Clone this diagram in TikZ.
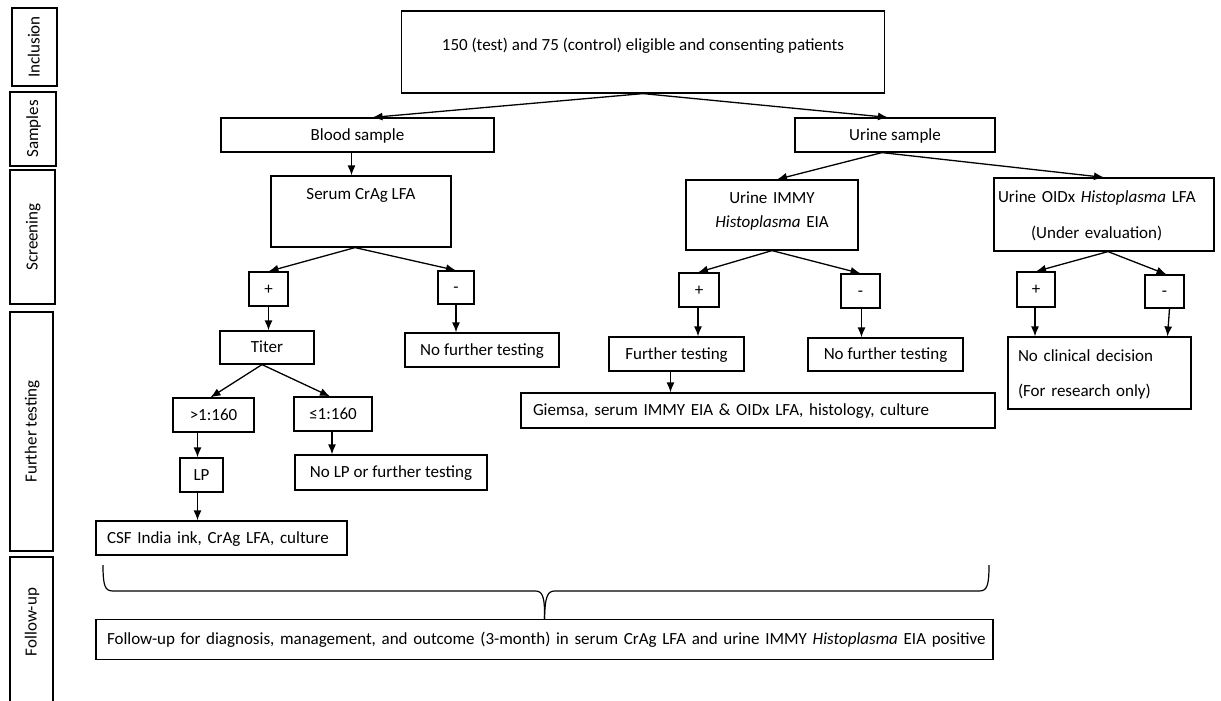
\documentclass[tikz,border=0pt]{standalone}
\usepackage{fontspec}
\setmainfont{Carlito}
\usetikzlibrary{arrows.meta}

\begin{document}
\begin{tikzpicture}[
  x=1pt, y=-1pt,
  font=\fontsize{17}{24}\selectfont,
  every node/.style={inner sep=0pt, line width=1.2pt},
  box/.style 2 args={draw, minimum width=#1pt, minimum height=#2pt, text height=12pt, text depth=2pt},
  phase/.style 2 args={draw, rotate=90, minimum width=#1pt, minimum height=#2pt, text height=12pt, text depth=2pt},
  flow/.style={-{Latex[length=10pt,width=8pt]}, line width=1.3pt}
  ]
  \useasboundingbox (0,0) rectangle (1221,701);

  % phases on the left
  \node[phase={78}{45}] (inc) at (34.5,47) {Inclusion};
  \node[phase={74}{46}] (samp) at (33,129) {Samples};
  \node[phase={134}{45}] (scr) at (32.5,237) {Screening};
  \node[phase={239}{43}] (fur) at (31.5,431.5) {Further testing};
  \node[phase={146}{43}] (fu) at (31.5,630) {\hspace*{16pt}Follow-up};

  % inclusion and samples
  \node[box={483}{82}, text height=39.5pt, text depth=42.5pt] (pat) at (643,52) {150 (test) and 75 (control) eligible and consenting patients};
  \node[box={273}{34}] (blood) at (357.5,135) {Blood sample};
  \node[box={200}{34}] (urine) at (895,135) {Urine sample};

  % blood branch
  \node[box={180}{71}, text height=23pt, text depth=48pt] (serum) at (361,211.5) {Serum CrAg LFA};
  \node[box={39}{34}] (bplus) at (268.5,289) {+};
  \node[box={36}{33}] (bminus) at (456,287.5) {-};
  \node[box={94}{33}] (titer) at (267,347.5) {Titer};
  \node[box={154}{34}] (bnone) at (482,350) {No further testing};
  \node[box={81}{34}] (hi) at (213.5,415) {>1:160};
  \node[box={78}{34}] (lo) at (333,414) {≤1:160};
  \node[box={43}{34}] (lp) at (201.5,475) {LP};
  \node[box={192}{35}] (nolp) at (391,472.5) {No LP or further testing};
  \node[box={251}{34}, align=left, text width=229pt, inner xsep=11pt] (csf) at (221.5,538) {CSF India ink, CrAg LFA, culture};

  % urine branch
  \node[box={172}{70}, align=center, text width=172pt, text height=23pt, text depth=47pt] (immy) at (772,215) {Urine IMMY\\\textit{Histoplasma} EIA};
  \node[box={220}{73}, align=left, text width=212pt, inner xsep=4pt, text height=24pt, text depth=49pt] (oidx) at (1104,214.5) {Urine OIDx \textit{Histoplasma} LFA\\[12pt]\hspace*{33pt}(Under evaluation)};
  \node[box={40}{34}] (iplus) at (699,290) {+};
  \node[box={39}{34}] (iminus) at (860.5,291) {-};
  \node[box={135}{34}] (ifur) at (676.5,354) {Further testing};
  \node[box={155}{33}] (inone) at (885.5,354.5) {No further testing};
  \node[box={474}{35}, align=left, text width=450pt, inner xsep=12pt] (giemsa) at (758,410.5) {Giemsa, serum IMMY EIA \& OIDx LFA, histology, culture};
  \node[box={38}{35}] (oplus) at (1036,289.5) {+};
  \node[box={39}{33}] (ominus) at (1164.5,291.5) {-};
  \node[box={183}{72}, align=left, text width=163pt, inner xsep=10pt, text height=24pt, text depth=48pt] (nocd) at (1099.5,373) {No clinical decision\\[11pt](For research only)};

  % follow-up
  \node[box={897}{40}, align=left, text width=875pt, inner xsep=11pt] (fup) at (544.5,639.5) {\mbox{Follow-up for diagnosis, management, and outcome (3-month) in serum CrAg LFA and urine IMMY \textit{Histoplasma} EIA positive}};
  \coordinate (bl) at (103,565);
  \coordinate (br) at (989,565);

  % connectors
  \draw[flow] (pat.south) -- ([xshift=15pt]blood.north);
  \draw[flow] (pat.south) -- ([xshift=-7pt]urine.north);
  \draw[flow] ([xshift=-6pt]blood.south) -- ([xshift=-6pt]blood.south |- serum.north);
  \draw[flow] ([xshift=-6pt]serum.south) -- (bplus.north);
  \draw[flow] ([xshift=-6pt]serum.south) -- (bminus.north);
  \draw[flow] (bplus.south) -- (bplus.south |- titer.north);
  \draw[flow] (bminus.south) -- (bminus.south |- bnone.north);
  \draw[flow] ([xshift=-5pt]titer.south) -- ([xshift=-3pt]hi.north);
  \draw[flow] ([xshift=-5pt]titer.south) -- ([xshift=-3pt]lo.north);
  \draw[flow] ([xshift=-16pt]hi.south) -- ([xshift=-16pt]hi.south |- lp.north);
  \draw[flow] ([xshift=-1pt]lo.south) -- ([xshift=-1pt]lo.south |- nolp.north);
  \draw[flow] ([xshift=-4pt]lp.south) -- ([xshift=-4pt]lp.south |- csf.north);
  \draw[flow] ([xshift=-13pt]urine.south) -- ([xshift=5pt]immy.north);
  \draw[flow] ([xshift=-13pt]urine.south) -- (oidx.north);
  \draw[flow] (immy.south) -- ([xshift=-1pt]iplus.north);
  \draw[flow] (immy.south) -- (iminus.north);
  \draw[flow] ([xshift=-1pt]iplus.south) -- ([xshift=-1pt]iplus.south |- ifur.north);
  \draw[flow] ([xshift=1pt]iminus.south) -- ([xshift=1pt]iminus.south |- inone.north);
  \draw[flow] ([xshift=-6pt]ifur.south) -- ([xshift=-6pt]ifur.south |- giemsa.north);
  \draw[flow] ([xshift=4pt]oidx.south) -- (oplus.north);
  \draw[flow] ([xshift=4pt]oidx.south) -- ([xshift=2pt]ominus.north);
  \draw[flow] ([xshift=-1pt]oplus.south) -- ([xshift=-1pt]oplus.south |- nocd.north);
  \draw[flow] ([xshift=5pt]ominus.south) -- ([xshift=68pt]nocd.north);

  % brace
  \draw[line width=1.2pt] (bl) .. controls (103,586) and (105,591) .. (113,591) -- (535,591) .. controls (542,591) and (545,595) .. (fup.north);
  \draw[line width=1.2pt] (br) .. controls (989,586) and (987,591) .. (979,591) -- (555,591) .. controls (548,591) and (545,595) .. (fup.north);
\end{tikzpicture}
\end{document}
